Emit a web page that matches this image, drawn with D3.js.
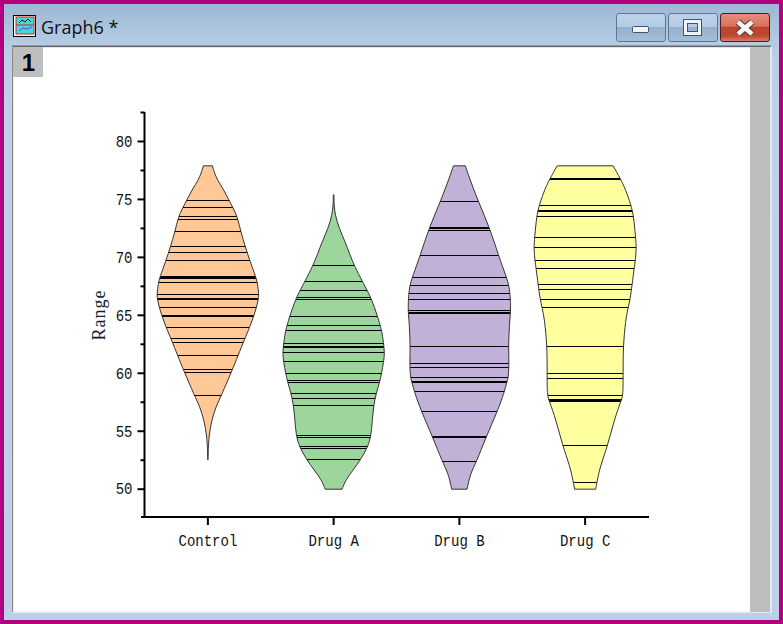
<!DOCTYPE html>
<html><head><meta charset="utf-8">
<script src="https://cdn.jsdelivr.net/npm/d3@7"></script>
<style>html,body{margin:0;padding:0;background:#fff;overflow:hidden}svg{display:block}</style>
</head><body><div id="chart"></div>
<script>
const categories = ["Control","Drug A","Drug B","Drug C"];
const majorTicks = [50,55,60,65,70,75,80];
const minorTicks = [52.5,57.5,62.5,67.5,72.5,77.5,82.5];
const colors = ["#FFC896","#9DD69D","#C2B1D7","#FFFF9F"];

// Outline of each violin: [value, density]
const controlOutline = [[77.9,4.5],[77.3,6.5],[76.6,10],[75.96,15],[74.95,21],[74.3,25],[73.5,29.5],[72.2,33],[70.9,37.5],[69.7,42],[68.3,48],[67.8,49.5],[66.8,51],[66.45,50.5],[65.7,48.7],[64.9,45.7],[63.95,41.7],[63,37],[61.5,30],[60.2,24],[58.1,13.5],[57.1,8],[55.95,3.7],[54.5,1],[53.5,0.4],[52.55,0.2]];
const drugAOutline = [[75.4,0.3],[74.5,0.4],[73.65,1.6],[72.5,5.5],[71.35,11.5],[70.3,16],[69.3,20.5],[67.9,29],[67.15,33.5],[66.4,38],[64.9,44],[64.15,46.5],[63.7,48],[62.6,50],[61.7,51],[61,50],[60,48],[59.25,46],[58.25,42.5],[57.2,40],[55.95,38.7],[54.65,37.5],[53.7,34.5],[52.55,27],[51.65,19.5],[50.8,12],[50,8.5]];
const drugBOutline = [[77.9,6],[77.1,9],[74.8,19],[72.5,30.5],[70.2,39],[68.3,47],[67.6,49.5],[66.9,50.5],[66.4,51],[65.35,51.3],[64.6,50.3],[62.3,49],[60.85,49.7],[59.65,49],[59.25,47.5],[58.4,45],[56.7,38],[54.5,26.7],[52.35,17],[51.35,11],[50,7.7]];
const drugCOutline = [[77.9,28],[76.75,35.5],[75.95,40],[74.5,46],[73.55,48.5],[71.7,50.5],[70.85,51.3],[69.75,50.3],[69.05,49],[67.65,47],[66.4,45],[65.65,43],[64.6,40.5],[62.3,38],[60,38],[58.1,38],[57.65,36],[55.95,29],[53.75,22.5],[51.95,15],[50.6,11.8],[50,10.5]];
const outlines = [controlOutline,drugAOutline,drugBOutline,drugCOutline];

// Individual observations; repeated values draw a heavier line
const controlValues = [74.95,74.3,73.5,73.3,72.2,70.9,70.4,69.7,68.3,68.3,68.3,67.8,66.8,66.45,66.45,65.7,64.9,64.9,63.95,63,62.65,61.5,60.35,60.05,58.1];
const drugAValues = [69.3,67.9,67.15,66.5,66.4,64.9,64.15,63.7,62.6,62.3,62.3,61.75,61,60,59.4,59.2,58.25,57.85,57.2,54.65,54.45,53.7,53.55,52.55];
const drugBValues = [74.8,72.5,72.5,72.3,70.2,68.3,67.6,66.9,66.4,65.4,65.2,65.2,62.3,60.85,60.5,59.65,59.25,59.25,58.4,56.7,54.5,54.5,52.35];
const drugCValues = [76.75,76.75,74.5,74,74,73.55,71.7,70.85,69.75,69.05,67.65,67.2,66.4,65.65,62.3,60,59.55,58.1,57.65,57.65,57.65,53.75,50.6];
const observations = [controlValues,drugAValues,drugBValues,drugCValues];

const W = 783, H = 624;
const svg = d3.select("#chart").append("svg").attr("width",W).attr("height",H);
const defs = svg.append("defs");

// ---- window frame
const frame = defs.append("linearGradient").attr("id","frameG").attr("x1",0).attr("x2",0).attr("y1",0).attr("y2",1);
[[0,"#9DB8D4"],[0.08,"#BAD0E8"],[0.2,"#BDD1EA"],[1,"#BCD0E9"]].forEach(s=>frame.append("stop").attr("offset",s[0]).attr("stop-color",s[1]));
svg.append("rect").attr("width",W).attr("height",H).attr("fill","#B3007F");
svg.append("rect").attr("x",4).attr("y",4).attr("width",775).attr("height",616).attr("fill","url(#frameG)");
svg.append("rect").attr("x",12).attr("y",46).attr("width",760).attr("height",567).attr("fill","#E4E8EE");
svg.append("rect").attr("x",13).attr("y",47.5).attr("width",757).attr("height",564).attr("fill","#fff");
svg.append("rect").attr("x",12).attr("y",45.5).attr("width",759).attr("height",1.6).attr("fill","#666");
svg.append("rect").attr("x",12).attr("y",46).attr("width",1.2).attr("height",566).attr("fill","#8a8a8a");
svg.append("rect").attr("x",750).attr("y",47).attr("width",20).attr("height",565).attr("fill","#BEBEBE");
svg.append("rect").attr("x",13).attr("y",47).attr("width",30).attr("height",30).attr("fill","#BEBEBE");
svg.append("text").attr("x",28.5).attr("y",71).attr("text-anchor","middle")
  .attr("font-family","Liberation Sans").attr("font-weight","bold").attr("font-size",24).attr("fill","#000").text("1");
svg.append("text").attr("x",41).attr("y",34).attr("font-family","Open Sans").attr("font-size",18).attr("fill","#111").text("Graph6 *");

// title icon
const icon = svg.append("g").attr("transform","translate(13,15)");
icon.append("rect").attr("x",.5).attr("y",.5).attr("width",22).attr("height",21).attr("fill","#fff").attr("stroke","#000");
icon.append("rect").attr("x",3).attr("y",2).attr("width",18).attr("height",17).attr("fill","#3FDCDC").attr("stroke","#E02020");
icon.append("line").attr("x1",3).attr("x2",21).attr("y1",10).attr("y2",10).attr("stroke","#E02020");
icon.append("path").attr("d","M6 8L9 5L12 7L15 4L18 7").attr("fill","none").attr("stroke","#111");
icon.append("path").attr("d","M6 16L10 13L14 14L19 12").attr("fill","none").attr("stroke","#7040C0");

// window buttons
const btn = defs.append("linearGradient").attr("id","btnG").attr("x1",0).attr("x2",0).attr("y1",0).attr("y2",1);
[[0,"#BDD2E8"],[0.5,"#B3CBE4"],[0.5,"#96B0CC"],[1,"#A6C0DC"]].forEach(s=>btn.append("stop").attr("offset",s[0]).attr("stop-color",s[1]));
const red = defs.append("linearGradient").attr("id","redG").attr("x1",0).attr("x2",0).attr("y1",0).attr("y2",1);
[[0,"#E29080"],[0.45,"#D9705C"],[0.5,"#B9452A"],[0.8,"#BC4A2E"],[1,"#DC8270"]].forEach(s=>red.append("stop").attr("offset",s[0]).attr("stop-color",s[1]));
svg.append("rect").attr("x",616.5).attr("y",13.5).attr("width",49).attr("height",28).attr("rx",2.5).attr("fill","url(#btnG)").attr("stroke","#5D7696");
svg.append("rect").attr("x",668.5).attr("y",13.5).attr("width",49).attr("height",28).attr("rx",2.5).attr("fill","url(#btnG)").attr("stroke","#5D7696");
svg.append("rect").attr("x",720.5).attr("y",13.5).attr("width",49).attr("height",28).attr("rx",2.5).attr("fill","url(#redG)").attr("stroke","#4A1E26");
svg.append("rect").attr("x",632.5).attr("y",26.5).attr("width",16).attr("height",6).attr("rx",1).attr("fill","#F0F3F7").attr("stroke","#3F5470");
svg.append("rect").attr("x",685.5).attr("y",21.5).attr("width",14).attr("height",12).attr("fill","none").attr("stroke","#3F5470").attr("stroke-width",5);
svg.append("rect").attr("x",685.5).attr("y",21.5).attr("width",14).attr("height",12).attr("fill","none").attr("stroke","#F0F3F7").attr("stroke-width",3);
svg.append("path").attr("d","M738 22L752 34M752 22L738 34").attr("stroke","#5A3038").attr("stroke-width",6.5);
svg.append("path").attr("d","M738 22L752 34M752 22L738 34").attr("stroke","#F4F6F8").attr("stroke-width",4.5);

// ---- chart
const x = d3.scalePoint().domain(categories).range([145,648]).padding(0.5);
const y = d3.scaleLinear().domain([47.6,82.5]).range([517,112.5]);
const w = d3.scaleLinear().domain([0,1]).range([0,1]);
const tickFont = "'Liberation Mono'";

categories.forEach((cat,i)=>{
  const cx = x(cat);
  const area = d3.area().curve(d3.curveBasis)
    .y(d=>y(d[0])).x0(d=>cx-w(d[1])).x1(d=>cx+w(d[1]));
  const path = area(outlines[i]);
  defs.append("clipPath").attr("id","clip"+i).append("path").attr("d",path);
  svg.append("path").attr("d",path).attr("fill",colors[i]);
  const counts = d3.rollups(observations[i],v=>v.length,d=>d);
  svg.append("g").attr("clip-path",`url(#clip${i})`).selectAll("line").data(counts).join("line")
    .attr("x1",cx-60).attr("x2",cx+60)
    .attr("y1",d=>y(d[0])).attr("y2",d=>y(d[0]))
    .attr("stroke","#000").attr("shape-rendering","crispEdges")
    .attr("stroke-width",d=>d[1]>2?3:d[1]>1?2:1);
  svg.append("path").attr("d",path).attr("fill","none").attr("stroke","#333").attr("stroke-width",1);
});

const yMajor = d3.axisLeft(y).tickValues(majorTicks).tickSize(7).tickPadding(5).tickFormat(d3.format("d")).offset(0);
const yMinor = d3.axisLeft(y).tickValues(minorTicks).tickSize(4).tickFormat("").offset(0);
const gMinor = svg.append("g").attr("transform","translate(144.5,0)").call(yMinor);
const gMajor = svg.append("g").attr("transform","translate(144.5,0)").call(yMajor);
const xAxis = d3.axisBottom(x).tickSize(8).tickPadding(9.5).offset(0);
const gX = svg.append("g").attr("transform","translate(0,517)").call(xAxis);
[gMinor,gMajor,gX].forEach(g=>{
  g.select(".domain").remove();
  g.selectAll("line").attr("stroke","#000").attr("stroke-width",2);
  g.selectAll("text").attr("font-family",tickFont).attr("font-size",16.5).attr("fill","#111")
    .attr("lengthAdjust","spacingAndGlyphs")
    .attr("textLength",function(){return this.textContent.length*8.4;});
});
svg.append("line").attr("x1",144.5).attr("x2",144.5).attr("y1",112).attr("y2",518).attr("stroke","#000").attr("stroke-width",2);
svg.append("line").attr("x1",141).attr("x2",649).attr("y1",517).attr("y2",517).attr("stroke","#000").attr("stroke-width",2);

svg.append("text").attr("transform","translate(105,315) rotate(-90)").attr("text-anchor","middle")
  .attr("font-family","Liberation Serif").attr("font-size",18).attr("letter-spacing",1).attr("fill","#102030").text("Range");
</script></body></html>
